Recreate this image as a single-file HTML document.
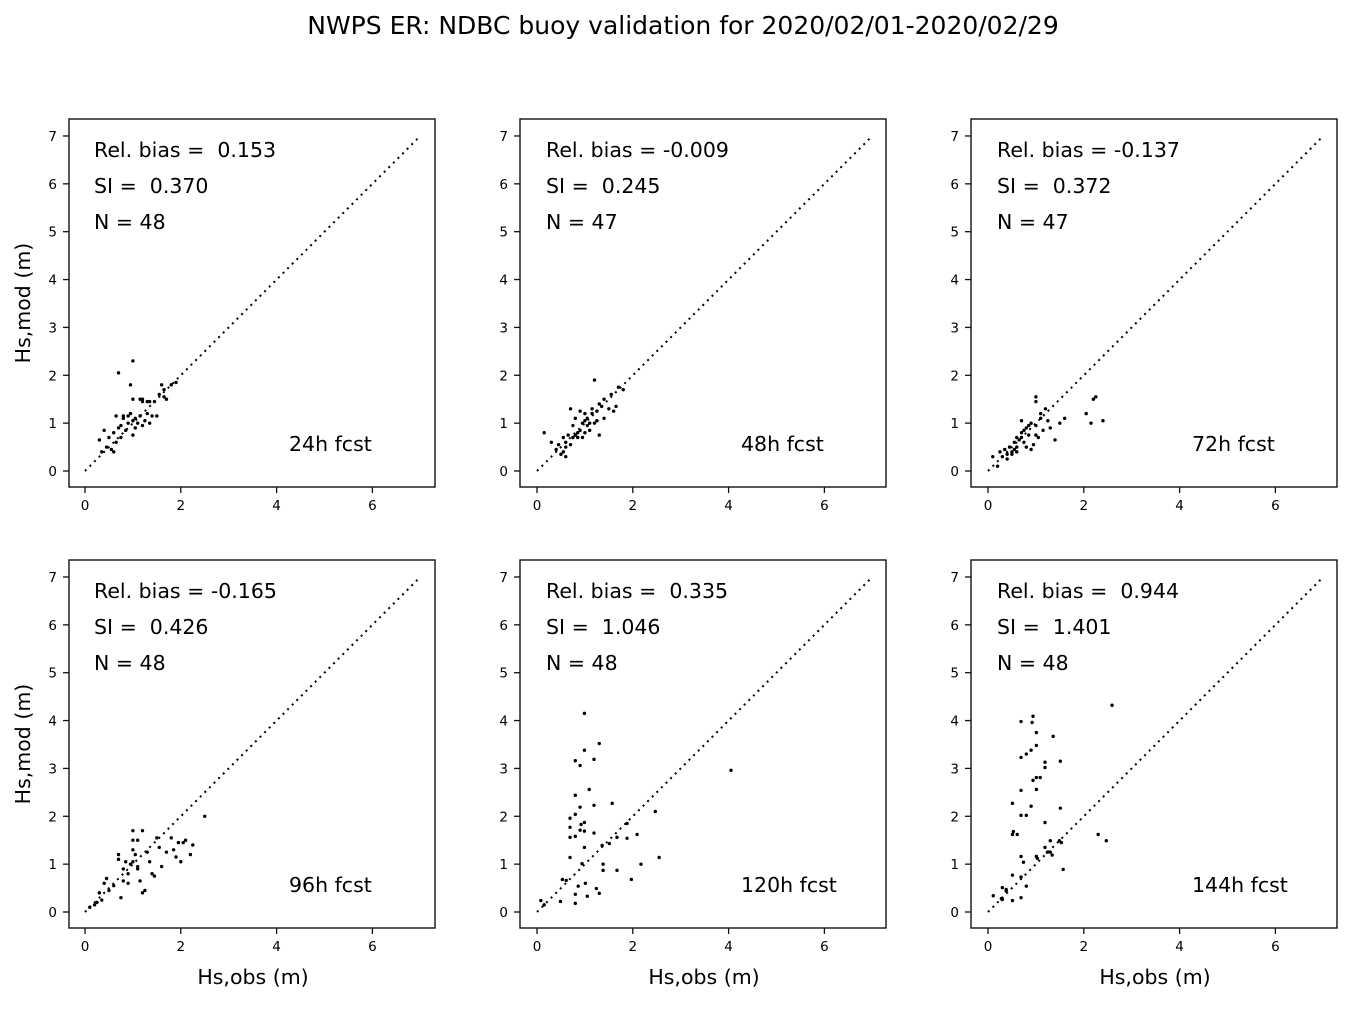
<!DOCTYPE html>
<html><head><meta charset="utf-8"><style>
body{margin:0;background:#fff;}
svg text{font-family:"DejaVu Sans","Liberation Sans",sans-serif;fill:#000;white-space:pre;}
</style></head><body>
<svg id="s" width="1357" height="1004" xmlns="http://www.w3.org/2000/svg">
<text x="683" y="34" font-size="25" text-anchor="middle">NWPS ER: NDBC buoy validation for 2020/02/01-2020/02/29</text>
</svg>
<script>
const P=[
{x0:85,y0:471,bx:69,by:119,rb:"  0.153",si:"  0.370",n:"48",f:"24h fcst",pts:[[0.3,0.65],[0.35,0.4],[0.4,0.85],[0.45,0.5],[0.5,0.7],[0.55,0.45],[0.6,0.8],[0.6,0.4],[0.65,1.15],[0.7,2.05],[0.7,0.9],[0.75,0.95],[0.75,0.7],[0.8,1.1],[0.85,0.85],[0.9,1.0],[0.95,1.8],[0.95,1.2],[1.0,2.3],[1.0,1.05],[1.0,0.75],[1.05,1.1],[1.1,1.0],[1.15,1.15],[1.2,1.5],[1.2,0.95],[1.25,1.05],[1.3,1.45],[1.3,1.2],[1.35,1.0],[1.4,1.15],[1.45,1.45],[1.5,1.15],[1.55,1.6],[1.6,1.8],[1.65,1.7],[1.7,1.5],[1.8,1.8],[1.9,1.85],[1.15,1.5],[1.0,1.5],[0.9,1.15],[0.65,0.6],[1.2,1.45],[1.35,1.45],[1.65,1.55],[0.8,1.15],[1.05,0.9]]},
{x0:537,y0:471,bx:520,by:119,rb:" -0.009",si:"  0.245",n:"47",f:"48h fcst",pts:[[0.15,0.8],[0.3,0.6],[0.4,0.45],[0.5,0.35],[0.55,0.7],[0.6,0.3],[0.6,0.6],[0.65,0.75],[0.7,1.3],[0.75,0.7],[0.8,0.75],[0.8,1.1],[0.85,0.8],[0.9,0.85],[0.95,1.0],[1.0,1.05],[1.0,0.8],[1.05,1.1],[1.1,1.0],[1.1,0.85],[1.15,1.2],[1.2,1.9],[1.2,1.0],[1.25,1.05],[1.3,0.75],[1.35,1.35],[1.4,1.5],[1.5,1.3],[1.55,1.6],[1.6,1.25],[1.65,1.35],[1.7,1.75],[1.8,1.7],[0.9,1.25],[0.7,0.55],[0.45,0.55],[1.0,1.2],[1.15,1.3],[0.95,0.7],[1.3,1.4],[1.05,0.95],[0.85,0.7],[0.6,0.5],[1.4,1.1],[1.25,1.25],[0.75,0.95],[0.55,0.4]]},
{x0:988,y0:471,bx:971,by:119,rb:" -0.137",si:"  0.372",n:"47",f:"72h fcst",pts:[[0.1,0.3],[0.2,0.1],[0.25,0.4],[0.3,0.3],[0.35,0.45],[0.4,0.35],[0.45,0.5],[0.5,0.4],[0.55,0.6],[0.6,0.5],[0.6,0.7],[0.65,0.65],[0.7,1.05],[0.7,0.8],[0.75,0.6],[0.8,0.9],[0.8,0.5],[0.85,0.75],[0.9,1.0],[0.95,0.55],[1.0,1.55],[1.0,1.45],[1.0,0.95],[1.05,0.7],[1.1,1.1],[1.15,0.85],[1.2,1.3],[1.25,1.05],[1.3,0.9],[1.4,0.65],[1.5,1.0],[1.6,1.1],[2.05,1.2],[2.15,1.0],[2.2,1.5],[2.25,1.55],[2.4,1.05],[0.85,0.95],[0.6,0.4],[0.5,0.35],[0.4,0.25],[0.7,0.7],[0.9,0.45],[1.1,1.2],[0.75,0.85],[1.0,0.75],[0.55,0.45]]},
{x0:85,y0:912,bx:69,by:560,rb:" -0.165",si:"  0.426",n:"48",f:"96h fcst",pts:[[0.1,0.1],[0.2,0.15],[0.25,0.2],[0.3,0.4],[0.35,0.25],[0.4,0.6],[0.45,0.7],[0.5,0.45],[0.6,0.55],[0.7,1.2],[0.7,1.1],[0.75,0.3],[0.8,0.65],[0.8,0.9],[0.85,1.05],[0.9,0.8],[0.95,1.0],[1.0,1.7],[1.0,1.5],[1.0,1.3],[1.0,1.05],[1.05,1.2],[1.1,0.9],[1.1,0.95],[1.15,0.65],[1.2,1.7],[1.2,0.4],[1.25,0.45],[1.3,1.25],[1.35,1.05],[1.4,0.8],[1.45,0.75],[1.5,1.55],[1.55,1.35],[1.6,0.95],[1.7,1.25],[1.8,1.55],[1.85,1.3],[1.9,1.15],[1.95,1.45],[2.0,1.05],[2.05,1.45],[2.1,1.5],[2.2,1.2],[2.25,1.4],[2.5,2.0],[0.9,0.6],[1.1,1.5]]},
{x0:537,y0:912,bx:520,by:560,rb:"  0.335",si:"  1.046",n:"48",f:"120h fcst",pts:[[0.99,4.15],[1.3,3.52],[0.99,3.38],[0.8,3.16],[0.9,3.06],[1.19,3.19],[4.05,2.96],[1.09,2.56],[0.8,2.44],[1.57,2.27],[1.19,2.23],[0.9,2.19],[0.8,2.04],[0.69,1.96],[2.47,2.1],[0.69,1.77],[0.99,1.87],[0.92,1.83],[0.9,1.71],[0.99,1.69],[0.69,1.56],[0.8,1.58],[1.19,1.65],[1.88,1.85],[2.09,1.62],[1.88,1.54],[1.67,1.56],[0.99,1.35],[1.36,1.39],[1.51,1.43],[0.69,1.14],[2.55,1.14],[0.94,1.01],[1.38,1.0],[2.17,1.0],[1.38,0.87],[1.67,0.87],[1.97,0.68],[0.53,0.68],[0.61,0.66],[1.01,0.6],[0.86,0.54],[1.24,0.49],[1.3,0.39],[0.8,0.37],[1.05,0.33],[0.49,0.22],[0.8,0.18],[0.08,0.24],[0.15,0.15]]},
{x0:988,y0:912,bx:971,by:560,rb:"  0.944",si:"  1.401",n:"48",f:"144h fcst",pts:[[2.59,4.32],[0.69,3.98],[0.92,3.96],[0.94,4.09],[1.01,3.75],[1.36,3.67],[1.01,3.48],[0.9,3.38],[0.8,3.3],[0.69,3.23],[1.19,3.13],[1.19,3.02],[1.51,3.15],[1.09,2.81],[1.01,2.81],[0.94,2.75],[0.69,2.54],[1.01,2.56],[0.51,2.27],[0.9,2.21],[1.51,2.17],[0.69,2.02],[0.8,2.02],[1.19,1.87],[0.51,1.62],[0.53,1.68],[0.61,1.62],[2.3,1.62],[2.47,1.49],[1.3,1.49],[1.49,1.49],[1.53,1.45],[1.19,1.35],[1.24,1.25],[1.3,1.25],[1.34,1.19],[0.69,1.16],[1.01,1.16],[1.03,1.12],[0.74,1.04],[1.57,0.89],[0.51,0.77],[0.69,0.73],[0.8,0.54],[0.3,0.51],[0.38,0.47],[0.11,0.34],[0.28,0.28],[0.3,0.26],[0.51,0.24],[0.69,0.3],[0.38,0.44]]}
];
const sx=47.9,sy=47.86;let h='';
P.forEach((p,i)=>{
 const X=v=>p.x0+v*sx,Y=v=>p.y0-v*sy;
 h+=`<rect x="${p.bx}" y="${p.by}" width="366" height="368" fill="none" stroke="#111" stroke-width="1.4"/>`;
 for(let t=0;t<=6;t+=2){h+=`<line x1="${X(t)}" x2="${X(t)}" y1="${p.by+368}" y2="${p.by+374}" stroke="#111" stroke-width="1.3"/><text x="${X(t)}" y="${p.by+391}" font-size="13.5" text-anchor="middle">${t}</text>`;}
 for(let t=0;t<=7;t++){h+=`<line x1="${p.bx-6}" x2="${p.bx}" y1="${Y(t)}" y2="${Y(t)}" stroke="#111" stroke-width="1.3"/><text x="${p.bx-12}" y="${Y(t)+5}" font-size="13.5" text-anchor="end">${t}</text>`;}
 h+=`<line x1="${X(0)}" y1="${Y(0)}" x2="${X(7)}" y2="${Y(7)}" stroke="#000" stroke-width="2" stroke-dasharray="2,4.5"/>`;
 p.pts.forEach(q=>{h+=`<circle cx="${X(q[0])}" cy="${Y(q[1])}" r="1.7" fill="#000"/>`;});
 const ty=p.y0-314;
 h+=`<text x="${p.x0+9}" y="${ty}" font-size="20.5">Rel. bias =${p.rb}</text><text x="${p.x0+9}" y="${ty+36}" font-size="20.5">SI =${p.si}</text><text x="${p.x0+9}" y="${ty+72}" font-size="20.5">N = ${p.n}</text>`;
 h+=`<text x="${p.x0+204}" y="${p.y0-20}" font-size="20.5">${p.f}</text>`;
 if(i%3==0)h+=`<text transform="translate(30,${p.by+184}) rotate(-90)" font-size="20.5" text-anchor="middle">Hs,mod (m)</text>`;
 if(i>=3)h+=`<text x="${p.bx+184}" y="984" font-size="20.5" text-anchor="middle">Hs,obs (m)</text>`;
});
document.getElementById('s').insertAdjacentHTML('beforeend',h);
</script>
</body></html>
